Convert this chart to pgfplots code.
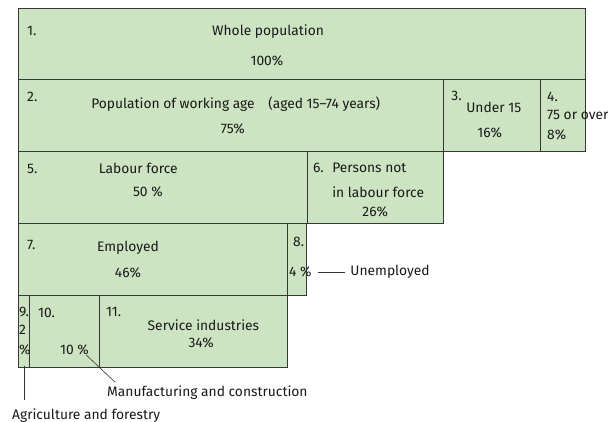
\documentclass[border=0pt]{standalone}
\usepackage{fontspec}
\setmainfont{Fira Sans}
\usepackage{pgfplots}
\pgfplotsset{compat=1.18}
\definecolor{boxgreen}{RGB}{205,228,194}
\definecolor{boxedge}{RGB}{55,55,55}
\begin{document}
\begin{tikzpicture}
\begin{axis}[
  width=614pt, height=422pt, scale only axis,
  xmin=-3.175, xmax=105.11,
  ymin=-0.111, ymax=5.766, y dir=reverse,
  hide axis, clip=false,
  box/.style={fill=boxgreen, draw=boxedge, line width=0.9pt, mark=none},
  leader/.style={draw=black!80, line width=0.6pt, mark=none},
  nodes={font=\fontsize{13.8}{15}\selectfont, inner sep=0pt, text=black!90},
]
% x in % of the whole population, y in rows from the top
\path (rel axis cs:0,0) rectangle (rel axis cs:1,1);
% row 1
\addplot[box] coordinates {(0,0) (100,0) (100,1) (0,1)} --cycle;
% row 2
\addplot[box] coordinates {(0,1) (75,1) (75,2) (0,2)} --cycle;
\addplot[box] coordinates {(75,1) (92.2,1) (92.2,2) (75,2)} --cycle;
\addplot[box] coordinates {(92.2,1) (100,1) (100,2) (92.2,2)} --cycle;
% row 3
\addplot[box] coordinates {(0,2) (51.1,2) (51.1,3) (0,3)} --cycle;
\addplot[box] coordinates {(51.1,2) (75,2) (75,3) (51.1,3)} --cycle;
% row 4
\addplot[box] coordinates {(0,3) (47.6,3) (47.6,4.01) (0,4.01)} --cycle;
\addplot[box] coordinates {(47.6,3) (50.8,3) (50.8,4.01) (47.6,4.01)} --cycle;
% row 5
\addplot[box] coordinates {(0,4.01) (2.1,4.01) (2.1,5) (0,5)} --cycle;
\addplot[box] coordinates {(2.1,4.01) (14.3,4.01) (14.3,5) (2.1,5)} --cycle;
\addplot[box] coordinates {(14.3,4.01) (47.6,4.01) (47.6,5) (14.3,5)} --cycle;
% leader lines
\addplot[leader] coordinates {(52.9,3.68) (57.7,3.68)};
\addplot[leader] coordinates {(12.0,4.83) (17.1,5.21)};
\addplot[leader] coordinates {(1.06,4.99) (1.06,5.46)};

\node[anchor=west] at (axis cs:1.59,0.32) {1.};
\node at (axis cs:44.1,0.334) {Whole population};
\node at (axis cs:43.9,0.738) {100\%};
\node[anchor=west] at (axis cs:1.59,1.24) {2.};
\node at (axis cs:38.4,1.337) {Population of working age\quad(aged 15–74 years)};
\node at (axis cs:37.9,1.685) {75\%};
\node[anchor=west] at (axis cs:76.4,1.22) {3.};
\node at (axis cs:83.9,1.39) {Under 15};
\node at (axis cs:83.2,1.74) {16\%};
\node[anchor=west] at (axis cs:93.3,1.24) {4.};
\node[anchor=west] at (axis cs:93.3,1.49) {75 or over};
\node[anchor=west] at (axis cs:93.3,1.77) {8\%};
\node[anchor=west] at (axis cs:1.59,2.24) {5.};
\node at (axis cs:21.2,2.24) {Labour force};
\node at (axis cs:22.9,2.56) {50 \%};
\node[anchor=west] at (axis cs:52.0,2.23) {6.};
\node[anchor=west] at (axis cs:55.4,2.23) {Persons not};
\node[anchor=west] at (axis cs:55.4,2.56) {in labour force};
\node at (axis cs:63.0,2.84) {26\%};
\node[anchor=west] at (axis cs:1.59,3.30) {7.};
\node at (axis cs:19.4,3.34) {Employed};
\node at (axis cs:19.4,3.69) {46\%};
\node[anchor=west] at (axis cs:48.5,3.26) {8.};
\node[anchor=west] at (axis cs:47.8,3.68) {4 \%};
\node[anchor=west] at (axis cs:58.6,3.68) {Unemployed};
\node[anchor=west] at (axis cs:0.18,4.24) {9.};
\node[anchor=west] at (axis cs:0.18,4.48) {2};
\node[anchor=west] at (axis cs:0.18,4.76) {\%};
\node[anchor=west] at (axis cs:3.53,4.24) {10.};
\node[anchor=west] at (axis cs:7.4,4.76) {10 \%};
\node[anchor=west] at (axis cs:15.5,4.24) {11.};
\node at (axis cs:32.7,4.42) {Service industries};
\node at (axis cs:32.3,4.67) {34\%};
\node[anchor=west] at (axis cs:15.7,5.36) {Manufacturing and construction};
\node[anchor=west] at (axis cs:-1.06,5.67) {Agriculture and forestry};
\end{axis}
\end{tikzpicture}
\end{document}
